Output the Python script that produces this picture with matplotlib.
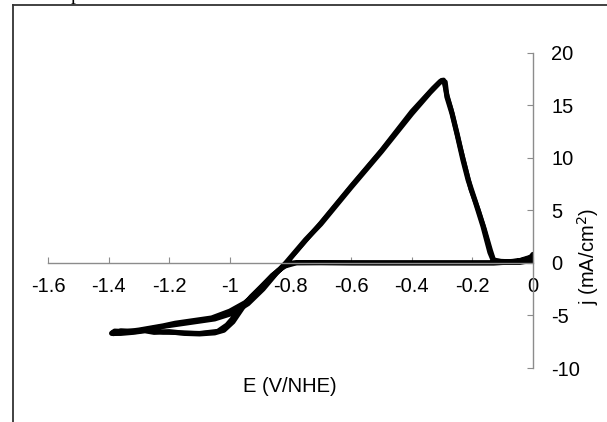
import matplotlib.pyplot as plt
from matplotlib.lines import Line2D

plt.rcParams['font.family'] = ['Liberation Sans', 'DejaVu Sans']
plt.rcParams['axes.unicode_minus'] = False

# cyclic voltammogram, potential (V vs NHE) and current density (mA/cm2)
E1 = [0.0, -0.05, -0.10, -0.13, -0.2, -0.3, -0.4, -0.5, -0.6, -0.7, -0.78,
      -0.82, -0.86, -0.90, -0.95, -0.99, -1.02, -1.05, -1.10, -1.15, -1.20,
      -1.25, -1.28, -1.32, -1.36, -1.39,
      -1.38, -1.34, -1.30, -1.26, -1.22, -1.18, -1.12, -1.06, -1.00, -0.95,
      -0.90, -0.85, -0.815, -0.75, -0.70, -0.60, -0.50, -0.40, -0.34, -0.31,
      -0.30, -0.29, -0.284, -0.267, -0.25, -0.231, -0.214, -0.19, -0.165,
      -0.142, -0.132, -0.12, -0.08, -0.04, -0.01, 0.0]
j1 = [0.6, 0.15, 0.05, 0.0, 0.0, 0.0, 0.0, 0.0, 0.0, 0.02, 0.02,
      -0.3, -1.2, -2.4, -3.9, -5.6, -6.4, -6.65, -6.75, -6.7, -6.55,
      -6.6, -6.45, -6.6, -6.7, -6.7,
      -6.5, -6.55, -6.4, -6.2, -6.0, -5.75, -5.5, -5.25, -4.6, -3.8,
      -2.6, -1.05, 0.0, 2.2, 3.7, 7.2, 10.6, 14.2, 16.2, 17.1,
      17.35, 17.2, 15.8, 14.2, 12.2, 9.8, 7.9, 5.8, 3.5,
      1.0, 0.3, 0.15, 0.1, 0.2, 0.4, 0.8]

# second cycle, almost on top of the first
E2 = [0.0, -0.05, -0.13, -0.3, -0.5, -0.7, -0.80, -0.84, -0.88, -0.93,
      -0.98, -1.01, -1.04, -1.10, -1.16, -1.22, -1.27, -1.31, -1.35, -1.385,
      -1.36, -1.31, -1.27, -1.23, -1.17, -1.11, -1.05, -0.99, -0.94, -0.89,
      -0.845, -0.81, -0.70, -0.60, -0.50, -0.40, -0.33, -0.305, -0.295,
      -0.286, -0.27, -0.24, -0.225, -0.205, -0.18, -0.16, -0.14, -0.13,
      -0.10, -0.05, -0.01, 0.0]
j2 = [0.2, 0.05, 0.0, 0.0, 0.0, 0.02, 0.0, -0.7, -1.8, -3.2,
      -4.9, -5.9, -6.5, -6.7, -6.65, -6.6, -6.35, -6.55, -6.6, -6.75,
      -6.45, -6.5, -6.3, -6.1, -5.85, -5.6, -5.35, -4.8, -3.9, -2.5,
      -0.95, 0.1, 3.8, 7.3, 10.7, 14.4, 16.6, 17.3, 17.4,
      16.2, 14.6, 11.0, 9.3, 7.0, 5.0, 3.2, 1.2, 0.3,
      0.1, 0.05, 0.15, 0.3]

x_ticks = [-1.6, -1.4, -1.2, -1, -0.8, -0.6, -0.4, -0.2, 0]
x_labels = ['-1.6', '-1.4', '-1.2', '-1', '-0.8', '-0.6', '-0.4', '-0.2', '0']
y_ticks = [-10, -5, 0, 5, 10, 15, 20]

fig = plt.figure(figsize=(6.07, 4.22), dpi=100)
ax = fig.add_axes([48 / 607, 1 - 368 / 422, 485 / 607, 315.4 / 422])

ax.plot(E1, j1, color='black', lw=3.8, solid_capstyle='round',
        solid_joinstyle='round')
ax.plot(E2, j2, color='black', lw=3.4, solid_capstyle='round',
        solid_joinstyle='round')

ax.set_xlim(-1.6, 0)
ax.set_ylim(-10, 20)

# excel style axes crossing at zero
axis_col = '#8c8c8c'
ax.spines['left'].set_visible(False)
ax.spines['top'].set_visible(False)
ax.spines['bottom'].set_position(('data', 0))
ax.spines['bottom'].set_color(axis_col)
ax.spines['right'].set_color(axis_col)
ax.spines['bottom'].set_linewidth(1.0)
ax.spines['right'].set_linewidth(1.0)
ax.yaxis.tick_right()

ax.set_xticks(x_ticks)
ax.set_xticklabels(x_labels)
ax.set_yticks(y_ticks)
ax.tick_params(axis='x', direction='in', length=4.5, color=axis_col,
               labelsize=14.5, pad=10)
ax.tick_params(axis='y', direction='in', length=4.5, color=axis_col,
               labelsize=14.5, pad=13)

fig.text(290 / 607, 1 - 386 / 422, 'E (V/NHE)', fontsize=14.5,
         ha='center', va='center')
fig.text(588 / 607, 1 - 257 / 422, 'j (mA/cm$^2$)', fontsize=14.5,
         rotation=90, ha='center', va='center')

# frame and cut off caption from the page above
fig.add_artist(Line2D([13 / 607, 1], [1 - 5 / 422, 1 - 5 / 422],
                      color='#333333', lw=1.3))
fig.add_artist(Line2D([13 / 607, 13 / 607], [0, 1 - 5 / 422],
                      color='#333333', lw=1.3))
fig.text(71 / 607, 1.0, 'p', family='Liberation Serif', fontsize=14,
         ha='left', va='baseline')

fig.savefig('out.png', dpi=100)
